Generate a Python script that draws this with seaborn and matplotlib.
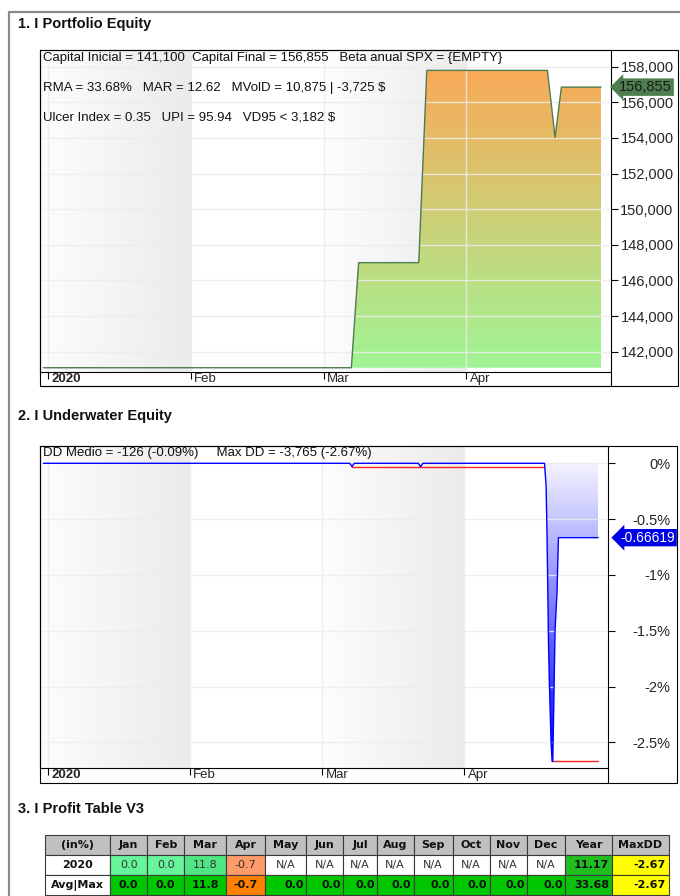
import matplotlib
matplotlib.use('Agg')
import matplotlib.pyplot as plt
import matplotlib.dates as mdates
import matplotlib.transforms as mtransforms
from matplotlib.patches import Rectangle
from matplotlib.lines import Line2D
from matplotlib.colors import LinearSegmentedColormap
from matplotlib.table import Table
import numpy as np
import pandas as pd
import seaborn as sns

# ---- data ----
equity_dates = ['2019-12-31 00:00', '2020-03-07 00:00', '2020-03-08 14:00', '2020-03-21 16:00',
                '2020-03-23 10:00', '2020-04-18 16:00', '2020-04-20 08:00', '2020-04-21 17:00',
                '2020-04-30 08:00']
equity_values = [141100, 141100, 147000, 147000, 157795, 157795, 154030, 156855, 156855]

dd_dates = ['2019-12-31 00:00', '2020-03-07 00:00', '2020-03-07 12:00', '2020-03-08 00:00',
            '2020-03-22 00:00', '2020-03-22 12:00', '2020-03-23 00:00', '2020-04-18 14:40',
            '2020-04-18 23:00', '2020-04-19 04:20', '2020-04-19 08:00', '2020-04-19 11:30',
            '2020-04-19 16:50', '2020-04-20 01:10', '2020-04-20 06:30', '2020-04-20 10:00',
            '2020-04-20 15:00', '2020-04-20 22:00', '2020-04-21 08:25', '2020-04-21 15:50',
            '2020-04-30 08:00']
dd_values = [0, 0, -0.03, 0, 0, -0.03, 0, 0, -0.2, -0.7, -1.15, -1.6, -2.0, -2.5, -2.67,
             -2.67, -2.2, -1.5, -1.15, -0.666, -0.666]

maxdd_dates = ['2020-03-07 12:00', '2020-04-18 14:00', '2020-04-20 06:30', '2020-04-30 08:00']
maxdd_values = [-0.03, -0.03, -2.67, -2.67]
maxdd_segment = [0, 0, 1, 1]

month_ticks = ['2020-01-01', '2020-02-01', '2020-03-01', '2020-04-01']
month_labels = ['2020', 'Feb', 'Mar', 'Apr']
equity_ticks = [142000, 144000, 146000, 148000, 150000, 152000, 154000, 156000, 158000]
dd_ticks = [0, -0.5, -1, -1.5, -2, -2.5]

equity_stats = ['Capital Inicial = 141,100  Capital Final = 156,855   Beta anual SPX = {EMPTY}',
                'RMA = 33.68%   MAR = 12.62   MVolD = 10,875 | -3,725 $',
                'Ulcer Index = 0.35   UPI = 95.94   VD95 < 3,182 $']
dd_stats = 'DD Medio = -126 (-0.09%)     Max DD = -3,765 (-2.67%)'
last_equity = 156855
last_dd = '-0.66619'

table_header = ['(in%)', 'Jan', 'Feb', 'Mar', 'Apr', 'May', 'Jun', 'Jul', 'Aug', 'Sep',
                'Oct', 'Nov', 'Dec', 'Year', 'MaxDD']
row_2020 = ['2020', '0.0', '0.0', '11.8', '-0.7', 'N/A', 'N/A', 'N/A', 'N/A', 'N/A',
            'N/A', 'N/A', 'N/A', '11.17', '-2.67']
row_avg = ['Avg|Max', '0.0', '0.0', '11.8', '-0.7', '0.0', '0.0', '0.0', '0.0', '0.0',
           '0.0', '0.0', '0.0', '33.68', '-2.67']
colors_2020 = ['white', '#66f59a', '#66f59a', '#4fe684', '#ff9a6a', 'white', 'white', 'white',
               'white', 'white', 'white', 'white', 'white', '#1fbf1f', '#ffff00']
colors_avg = ['white', '#00c800', '#00c800', '#00c800', '#ff8000', '#00c800', '#00c800',
              '#00c800', '#00c800', '#00c800', '#00c800', '#00c800', '#00c800', '#10c010', '#ffff00']
col_widths = [65, 37, 37, 42, 39, 41, 37, 33, 37, 39, 37, 37, 38, 47, 57]

# ---- style ----
sns.set_style('white')
plt.rcParams['font.family'] = ['Liberation Sans', 'DejaVu Sans']

W, H = 680, 896
fig = plt.figure(figsize=(W / 100, H / 100), dpi=100)


def px_box(l, t, r, b):
    return [l / W, 1 - b / H, (r - l) / W, (b - t) / H]


def frame(l, t, r, b, **kw):
    fig.add_artist(Rectangle((l / W, 1 - b / H), (r - l) / W, (b - t) / H,
                             transform=fig.transFigure, fill=False, **kw))


def vline(x, t, b, **kw):
    fig.add_artist(Line2D([x / W, x / W], [1 - t / H, 1 - b / H], transform=fig.transFigure, **kw))


# outer grey border
fig.add_artist(Line2D([9 / W, 9 / W], [0, 1 - 12 / H], transform=fig.transFigure, color='#8a8a8a', lw=1.6))
fig.add_artist(Line2D([9 / W, 1], [1 - 12 / H, 1 - 12 / H], transform=fig.transFigure, color='#8a8a8a', lw=1.6))

title_kw = dict(fontsize=10.5, fontweight='bold', ha='left', va='center', color='#111111')
fig.text(18 / W, 1 - 24 / H, '1. I Portfolio Equity', **title_kw)
fig.text(18 / W, 1 - 416 / H, '2. I Underwater Equity', **title_kw)
fig.text(18 / W, 1 - 809 / H, '3. I Profit Table V3', **title_kw)

x_start = pd.Timestamp('2019-12-30 06:00')
x_end = pd.Timestamp('2020-05-02 12:00')
xt = pd.to_datetime(month_ticks)
band_cmap = LinearSegmentedColormap.from_list('band', ['#fdfdfd', '#ebebeb'])


def month_bands(ax, ylo, yhi):
    grad = np.linspace(0, 1, 256).reshape(1, -1)
    for a, b in [(x_start, xt[1]), (xt[2], xt[3])]:
        ax.imshow(grad, cmap=band_cmap, aspect='auto', zorder=0,
                  extent=[mdates.date2num(a), mdates.date2num(b), ylo, yhi])


def gradient_fill(ax, x, y, base, colors, lo, hi):
    poly = ax.fill_between(x, y, base, color='none', lw=0)
    path = poly.get_paths()[0]
    cmap = LinearSegmentedColormap.from_list('fill', colors)
    grad = np.linspace(0, 1, 256).reshape(-1, 1)
    im = ax.imshow(grad, cmap=cmap, aspect='auto', origin='lower', zorder=1,
                   extent=[mdates.date2num(x.min()), mdates.date2num(x.max()), lo, hi])
    im.set_clip_path(path, transform=ax.transData)


def style_axes(ax, yticks, ylabels):
    ax.set_xlim(x_start, x_end)
    ax.set_xticks(xt)
    ax.set_xticklabels(month_labels)
    ax.tick_params(axis='x', bottom=True, direction='out', length=5, pad=-4, labelsize=9.5, color='black')
    shift = mtransforms.ScaledTranslation(2.5 / 72, 0, fig.dpi_scale_trans)
    for lbl in ax.get_xticklabels():
        lbl.set_ha('left')
        lbl.set_transform(lbl.get_transform() + shift)
    ax.get_xticklabels()[0].set_fontweight('bold')
    ax.yaxis.tick_right()
    ax.set_yticks(yticks)
    ax.set_yticklabels(ylabels)
    ax.tick_params(axis='y', right=True, direction='out', length=5, pad=40, labelsize=10.5, color='black')
    for lbl in ax.get_yticklabels():
        lbl.set_ha('right')
    ax.grid(True, color='#ececec', lw=1, alpha=0.85)
    ax.set_axisbelow(False)
    for s in ax.spines.values():
        s.set_color('black')
        s.set_linewidth(0.8)
    ax.set_xlabel('')
    ax.set_ylabel('')


# ---- panel 1: equity ----
ax1 = fig.add_axes(px_box(40, 50, 611, 372))
eq = pd.DataFrame({'Date': pd.to_datetime(equity_dates), 'Equity': equity_values})
y1_lo, y1_hi = 140860, 158940
month_bands(ax1, y1_lo, y1_hi)
gradient_fill(ax1, eq['Date'], eq['Equity'], 141100, ['#a0f595', '#f9aa58'], 141100, 157795)
sns.lineplot(data=eq, x='Date', y='Equity', ax=ax1, color='#4e7d4e', lw=1, zorder=3)
ax1.set_ylim(y1_lo, y1_hi)
style_axes(ax1, equity_ticks, [f'{v:,}' for v in equity_ticks])
for i, line in enumerate(equity_stats):
    ax1.text(3 / 571, 1 - (8 + i * 29.5) / 322, line, transform=ax1.transAxes, fontsize=9.5,
             ha='left', va='center', color='#111111', zorder=5)
trans1 = mtransforms.blended_transform_factory(ax1.transAxes, ax1.transData)
ax1.annotate(f'{last_equity:,}', xy=(1, last_equity), xycoords=trans1, xytext=(44, 0),
             textcoords='offset points', ha='right', va='center', fontsize=10.5, color='#1a1a1a',
             annotation_clip=False,
             bbox=dict(boxstyle='larrow,pad=0.12', fc='#4f7f4f', ec='none'))

frame(40, 50, 678, 386, ec='black', lw=0.8)
vline(611, 372, 386, color='black', lw=0.8)
fig.add_artist(Line2D([40 / W, 611 / W], [1 - 386 / H] * 2, transform=fig.transFigure, color='black', lw=0.8))

# ---- panel 2: underwater ----
ax2 = fig.add_axes(px_box(40, 446, 608, 768))
dd = pd.DataFrame({'Date': pd.to_datetime(dd_dates), 'DD': dd_values})
mdd = pd.DataFrame({'Date': pd.to_datetime(maxdd_dates), 'DD': maxdd_values, 'seg': maxdd_segment})
y2_lo, y2_hi = -2.729, 0.155
month_bands(ax2, y2_lo, y2_hi)
gradient_fill(ax2, dd['Date'], dd['DD'], 0, ['#0000ff', '#f4f4ff'], -2.67, 0)
sns.lineplot(data=mdd, x='Date', y='DD', units='seg', estimator=None, ax=ax2, color='#ff2020', lw=1, zorder=3)
sns.lineplot(data=dd, x='Date', y='DD', ax=ax2, color='#0000ff', lw=1, zorder=4)
ax2.set_ylim(y2_lo, y2_hi)
style_axes(ax2, dd_ticks, ['0%', '-0.5%', '-1%', '-1.5%', '-2%', '-2.5%'])
ax2.text(3 / 568, 1 - 7 / 322, dd_stats, transform=ax2.transAxes, fontsize=9.5,
         ha='left', va='center', color='#111111', zorder=5)
trans2 = mtransforms.blended_transform_factory(ax2.transAxes, ax2.transData)
ax2.annotate(last_dd, xy=(1, dd_values[-1]), xycoords=trans2, xytext=(9, 0),
             textcoords='offset points', ha='left', va='center', fontsize=10, color='white',
             annotation_clip=False,
             bbox=dict(boxstyle='larrow,pad=0.12', fc='#0000e6', ec='none'))

frame(40, 446, 677, 783, ec='black', lw=0.8)
vline(608, 768, 783, color='black', lw=0.8)

# ---- panel 3: profit table ----
ax3 = fig.add_axes(px_box(45, 835, 669, 895))
ax3.axis('off')
tab = Table(ax3, bbox=[0, 0, 1, 1])
total_w = sum(col_widths)
rows = [(table_header, ['#c0c0c0'] * len(table_header)), (row_2020, colors_2020), (row_avg, colors_avg)]
for r, (vals, cols) in enumerate(rows):
    for c, (val, colr) in enumerate(zip(vals, cols)):
        loc = 'center'
        if r > 0 and c >= 13:
            loc = 'right'
        if r == 2 and 5 <= c <= 12:
            loc = 'right'
        cell = tab.add_cell(r, c, col_widths[c] / total_w, 1 / 3, text=val, loc=loc, facecolor=colr,
                            edgecolor='#3a3a3a')
        cell.set_linewidth(0.8)
        bold = r == 0 or r == 2 or c == 0 or c >= 13
        cell.get_text().set_fontweight('bold' if bold else 'normal')
        cell.get_text().set_fontfamily('DejaVu Sans')
        cell.get_text().set_color('#111111' if r != 1 or c == 0 or c >= 13 else '#333333')
        cell.PAD = 0.06
tab.auto_set_font_size(False)
tab.set_fontsize(8)
ax3.add_table(tab)

fig.savefig('out.png', dpi=100)
